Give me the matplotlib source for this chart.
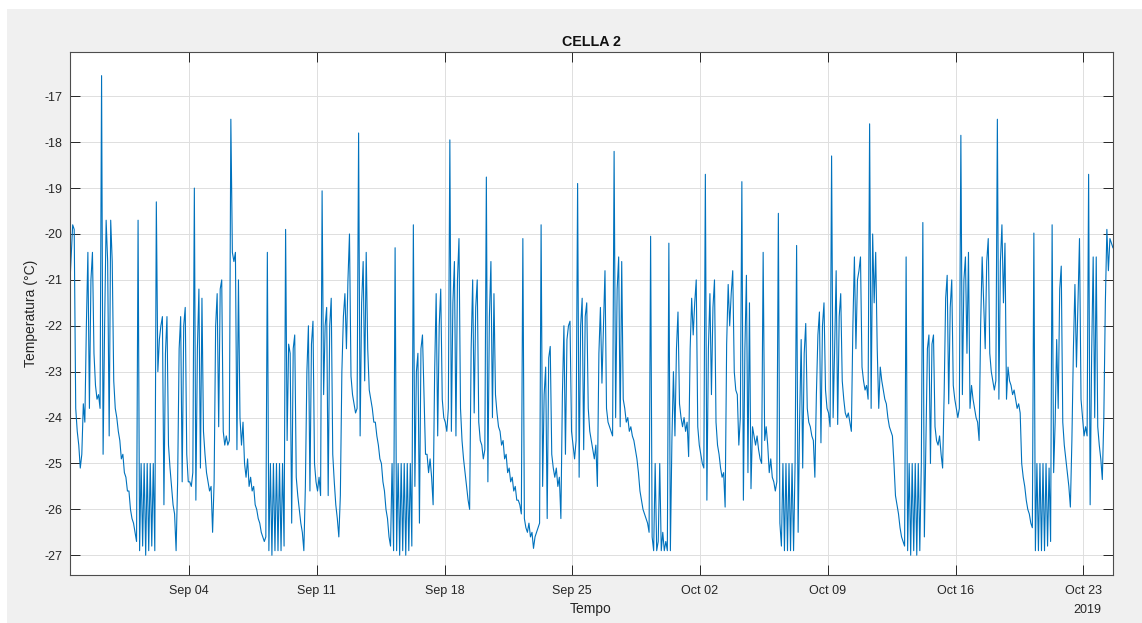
import pandas as pd
import matplotlib
matplotlib.use("Agg")
import matplotlib.pyplot as plt
import matplotlib.dates as mdates
from matplotlib.patches import Rectangle

plt.rcParams["font.family"] = ["Liberation Sans", "DejaVu Sans"]
plt.rcParams["axes.unicode_minus"] = False

# temperatura cella 2, un campione ogni 2 ore (dal 28/08 ore 11:00)
aug28 = [-21.2, -20.5, -19.8, -19.9, -23.8, -24.3, -24.6]

# 29/08 - 04/09
week1 = [
    -25.1, -24.8, -23.7, -24.1, -22.0, -20.4, -23.8, -21.0, -20.4, -22.6, -23.3, -23.6,
    -23.5, -23.8, -16.55, -24.8, -22.0, -19.7, -20.6, -24.4, -19.7, -20.6, -23.2, -23.8,
    -24.0, -24.3, -24.5, -24.9, -24.8, -25.2, -25.3, -25.6, -25.6, -26.0, -26.2, -26.3,
    -26.5, -26.7, -19.7, -26.9, -25.0, -26.8, -25.0, -27.0, -25.0, -26.9, -25.0, -26.8,
    -25.0, -26.9, -19.3, -23.0, -22.3, -22.0, -21.8, -25.9, -22.6, -21.8, -24.6, -25.1,
    -25.5, -25.9, -26.1, -26.9, -25.4, -22.5, -21.8, -25.4, -22.0, -21.6, -24.8, -25.4,
    -25.4, -25.5, -25.2, -19.0, -25.8, -22.5, -21.2, -25.1, -21.4, -24.3, -24.8, -25.2,
]
# 05/09 - 11/09
week2 = [
    -25.4, -25.6, -25.5, -26.5, -25.4, -22.0, -21.3, -24.2, -21.2, -21.0, -24.3, -24.6,
    -24.4, -24.6, -24.5, -17.5, -20.4, -20.6, -20.4, -24.7, -21.0, -24.0, -24.6, -24.1,
    -25.0, -25.3, -24.9, -25.5, -25.3, -25.6, -25.5, -25.9, -26.0, -26.2, -26.3, -26.5,
    -26.6, -26.7, -26.6, -20.4, -26.9, -25.0, -27.0, -25.0, -26.9, -25.0, -26.9, -25.0,
    -26.9, -25.0, -26.8, -19.9, -24.5, -22.4, -22.6, -26.3, -22.5, -22.2, -25.3, -25.7,
    -26.0, -26.3, -26.5, -26.9, -25.5, -23.0, -22.0, -25.6, -22.4, -21.9, -25.0, -25.4,
    -25.6, -25.3, -25.7, -19.06, -23.5, -22.0, -21.6, -25.7, -22.0, -21.4, -24.8, -25.4,
]
# 12/09 - 18/09
week3 = [
    -25.9, -26.2, -26.6, -25.7, -23.0, -21.8, -21.3, -22.5, -21.0, -20.0, -23.1, -23.5,
    -23.7, -23.9, -23.8, -17.8, -24.4, -21.5, -20.6, -23.2, -20.4, -22.5, -23.4, -23.6,
    -23.8, -24.1, -24.1, -24.4, -24.6, -24.9, -25.0, -25.4, -25.6, -26.0, -26.2, -26.6,
    -26.8, -25.0, -26.9, -20.3, -26.9, -25.0, -27.0, -25.0, -26.9, -25.0, -27.0, -25.0,
    -26.9, -25.0, -26.8, -19.8, -25.5, -23.0, -22.6, -26.3, -22.5, -22.2, -23.5, -24.8,
    -24.8, -25.2, -24.9, -25.3, -25.9, -23.0, -21.3, -24.4, -22.0, -21.2, -23.6, -24.0,
    -24.1, -24.3, -23.8, -17.95, -24.3, -21.5, -20.6, -24.4, -21.0, -20.1, -23.8, -24.5,
]
# 19/09 - 25/09
week4 = [
    -24.9, -25.2, -25.5, -25.8, -26.0, -22.5, -21.0, -23.9, -21.6, -21.0, -24.1, -24.5,
    -24.6, -24.9, -24.7, -18.76, -25.4, -21.8, -20.6, -24.0, -21.3, -23.5, -23.9, -24.2,
    -24.3, -24.6, -24.5, -24.9, -24.8, -25.2, -25.1, -25.4, -25.3, -25.6, -25.5, -25.8,
    -25.8, -25.9, -26.1, -20.1, -26.2, -26.4, -26.5, -26.3, -26.6, -26.5, -26.85, -26.6,
    -26.5, -26.4, -26.3, -19.8, -25.5, -23.5, -22.9, -26.2, -22.7, -22.45, -24.8, -25.1,
    -25.3, -25.1, -25.5, -25.3, -26.2, -23.5, -22.0, -24.8, -22.3, -22.0, -21.9, -24.3,
    -24.6, -24.9, -24.5, -18.9, -25.3, -22.0, -21.4, -24.7, -21.8, -21.5, -23.8, -24.3,
]
# 26/09 - 02/10
week5 = [
    -24.5, -24.7, -24.9, -24.6, -25.5, -22.6, -21.6, -23.25, -22.0, -20.8, -23.8, -24.1,
    -24.2, -24.3, -24.4, -18.2, -24.0, -21.2, -20.5, -24.2, -20.6, -23.6, -23.8, -24.1,
    -24.0, -24.3, -24.2, -24.4, -24.5, -24.7, -24.9, -25.2, -25.6, -25.8, -26.0, -26.1,
    -26.2, -26.3, -26.5, -20.05, -26.6, -26.9, -25.0, -26.9, -26.7, -25.0, -26.9, -26.5,
    -26.9, -26.7, -26.9, -20.2, -26.9, -24.5, -23.0, -24.4, -22.5, -21.7, -23.7, -24.0,
    -24.2, -24.0, -24.3, -24.1, -24.85, -22.5, -21.4, -22.2, -21.5, -21.0, -24.2, -24.6,
    -24.8, -25.0, -25.1, -18.7, -25.8, -22.5, -21.3, -23.5, -21.6, -21.0, -24.1, -24.6,
]
# 03/10 - 09/10
week6 = [
    -24.8, -25.1, -25.3, -25.2, -25.95, -22.4, -21.1, -22.0, -21.3, -20.8, -23.0, -23.4,
    -23.5, -24.6, -24.0, -18.86, -25.8, -22.5, -20.9, -25.2, -21.5, -25.55, -24.2, -24.4,
    -24.6, -24.4, -24.7, -24.9, -25.0, -20.4, -24.5, -24.2, -24.6, -25.2, -24.9, -25.3,
    -25.4, -25.6, -25.4, -19.55, -26.3, -26.8, -25.0, -26.9, -25.0, -26.9, -25.0, -26.9,
    -25.0, -26.9, -25.0, -20.25, -26.5, -24.0, -22.3, -25.1, -22.6, -21.95, -23.8, -24.1,
    -24.2, -24.4, -24.5, -25.3, -23.5, -22.2, -21.7, -24.55, -22.0, -21.5, -23.4, -23.8,
    -23.9, -24.2, -18.3, -24.0, -22.5, -20.8, -24.15, -21.8, -21.3, -23.2, -23.6, -23.9,
]
# 10/10 - 16/10
week7 = [
    -24.0, -23.9, -24.1, -24.3, -22.0, -20.5, -22.5, -21.0, -20.8, -20.5, -22.9, -23.2,
    -23.4, -23.3, -23.6, -17.6, -23.8, -20.0, -21.5, -20.4, -22.5, -23.8, -22.9, -23.2,
    -23.4, -23.6, -23.7, -24.0, -24.2, -24.3, -24.4, -25.0, -25.7, -25.9, -26.1, -26.4,
    -26.6, -26.7, -26.8, -20.5, -26.9, -25.0, -27.0, -25.0, -26.9, -25.0, -27.0, -25.0,
    -26.9, -25.0, -19.75, -26.6, -24.5, -22.5, -22.2, -25.0, -22.4, -22.2, -24.2, -24.5,
    -24.6, -24.4, -24.8, -25.1, -23.5, -21.4, -20.9, -23.7, -21.6, -21.0, -23.3, -23.6,
    -23.8, -24.0, -23.8, -17.85, -23.5, -21.0, -20.5, -22.6, -20.4, -23.8, -23.3, -23.6,
]
# 17/10 - 23/10
week8 = [
    -23.8, -24.0, -24.1, -24.5, -22.0, -20.5, -21.5, -22.5, -20.6, -20.1, -22.6, -23.0,
    -23.2, -23.4, -23.2, -17.5, -23.6, -20.6, -19.8, -21.5, -20.2, -23.6, -22.9, -23.2,
    -23.3, -23.5, -23.4, -23.6, -23.8, -23.7, -23.9, -25.0, -25.3, -25.5, -25.8, -26.0,
    -26.1, -26.3, -26.4, -19.98, -26.9, -25.0, -26.9, -25.0, -26.9, -25.0, -26.9, -25.0,
    -26.8, -25.1, -26.7, -19.8, -25.2, -24.1, -22.3, -23.8, -21.2, -20.7, -24.1, -24.6,
    -24.9, -25.2, -25.5, -25.95, -24.5, -22.5, -21.1, -22.9, -21.5, -20.1, -23.6, -24.0,
    -24.4, -24.2, -24.4, -18.7, -25.9, -22.6, -20.5, -24.0, -20.5, -24.2, -24.6, -24.9,
]
oct24 = [-25.35, -24.0, -21.5, -19.9, -20.8, -20.1, -20.2, -20.3]

temp = aug28 + week1 + week2 + week3 + week4 + week5 + week6 + week7 + week8 + oct24
tempo = pd.date_range("2019-08-28 11:00", periods=len(temp), freq="2h")

W, H = 1142, 623
fig = plt.figure(figsize=(W / 100, H / 100), dpi=100, facecolor="white")
# sfondo grigio della finestra
fig.add_artist(Rectangle((7 / W, 0), 1, (H - 9) / H, transform=fig.transFigure,
                         facecolor="#f0f0f0", edgecolor="none", zorder=-10))

ax = fig.add_axes([69.7 / W, 1 - 575 / H, (1112.7 - 69.7) / W, (575 - 52) / H])
ax.set_facecolor("white")
ax.plot(tempo, temp, color="#0072bd", lw=0.8)

ax.set_xlim(pd.Timestamp("2019-08-28 11:05"), pd.Timestamp("2019-10-24 14:40"))
ax.set_ylim(-27.43, -16.035)
ax.set_xticks(pd.date_range("2019-09-04", "2019-10-23", freq="7D"))
ax.xaxis.set_major_formatter(mdates.DateFormatter("%b %d"))
ax.set_yticks(range(-27, -16))

ax.grid(True, color="#dedede", lw=0.7)
ax.set_axisbelow(True)
for s in ax.spines.values():
    s.set_color("#4d4d4d")
    s.set_linewidth(0.8)
ax.tick_params(direction="in", length=7.5, width=0.7, top=True, right=True,
               labelsize=9, labelcolor="#262626", color="#262626")
ax.tick_params(axis="x", pad=7)
ax.tick_params(axis="y", pad=5.5)

ax.set_title("CELLA 2", fontsize=10.3, fontweight="bold", color="#111111", pad=4.5)
fig.text(591 / W, 1 - 613 / H, "Tempo", ha="center", va="baseline", fontsize=10, color="#262626")
fig.text(1101.7 / W, 1 - 613 / H, "2019", ha="right", va="baseline", fontsize=9, color="#262626")
fig.text(31 / W, 1 - 313.5 / H, "Temperatura (°C)", ha="center", va="center",
         rotation=90, fontsize=10, color="#262626")

fig.savefig("out.png", dpi=100, facecolor=fig.get_facecolor())
